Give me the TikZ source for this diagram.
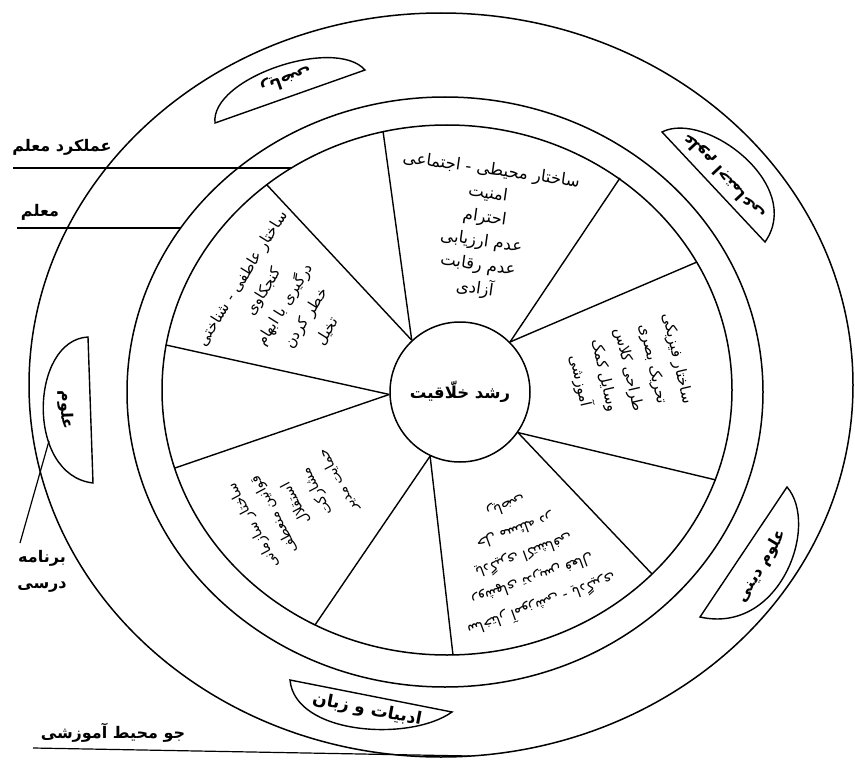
\documentclass[tikz,border=0pt]{standalone}
\usepackage{fontspec}
\newfontfamily\arabicfont[Script=Arabic]{DejaVu Sans}
\TeXXeTstate=1
\newcommand{\fa}[1]{\beginR #1\endR}
\tikzset{
  ring/.style={line width=1.5pt},
  spoke/.style={line width=1.4pt},
  lens/.style={line width=1.4pt},
  lead/.style={line width=1.2pt},
  seg/.style={align=center, inner sep=0pt, font=\arabicfont\fontsize{16.5}{24}\selectfont},
  lbl/.style={inner sep=0pt, align=center, font=\arabicfont\bfseries\fontsize{16}{26}\selectfont},
}
\begin{document}
\begin{tikzpicture}[x=1pt,y=-1pt]
\useasboundingbox (0,0) rectangle (855,760);
\fill[white] (0,0) rectangle (855,760);
% rings
\draw[ring] (441,385) ellipse [x radius=412pt, y radius=372pt];
\draw[ring] (445,392) ellipse [x radius=318pt, y radius=295pt];
\draw[ring] (447,390) ellipse [x radius=285pt, y radius=265pt];
% hub
\node[circle, draw, ring, minimum size=140pt, inner sep=0pt,
      font=\arabicfont\bfseries\fontsize{16.5}{18}\selectfont] (hub) at (460,392) {\fa{رشد خلّاقیت}};
% outer ends of spokes
\coordinate (o1) at (383,131);
\coordinate (o2) at (620,178);
\coordinate (o3) at (697,262);
\coordinate (o4) at (716,480);
\coordinate (o5) at (652,574);
\coordinate (o6) at (453,655);
\coordinate (o7) at (315,625);
\coordinate (o8) at (175,468);
\coordinate (o10) at (166,345);
\coordinate (o9) at (267,185);
\draw[spoke] (hub.133) -- (o1);
\draw[spoke] (hub.133) -- (o9);
\draw[spoke] (hub.45) -- (o2);
\draw[spoke] (hub.45) -- (o3);
\draw[spoke] (hub.-35) -- (o4);
\draw[spoke] (hub.-35) -- (o5);
\draw[spoke] (hub.-115) -- (o6);
\draw[spoke] (hub.-115) -- (o7);
\draw[spoke] (hub.182) -- (o8);
\draw[spoke] (hub.182) -- (o10);
% segment texts
\node[seg, rotate=-8] (sTop) at (483,230)
  {\fa{ساختار محیطی - اجتماعی}\\\fa{امنیت}\\\fa{احترام}\\\fa{عدم ارزیابی}\\\fa{عدم رقابت}\\\fa{آزادی}};
\node[seg, rotate=-77, font=\arabicfont\fontsize{15}{25}\selectfont] (sRight) at (628,370)
  {\fa{ساختار فیزیکی}\\\fa{تحریک بصری}\\\fa{طراحی کلاس}\\\fa{وسایل کمک}\\\fa{آموزشی}};
\node[seg, rotate=58, font=\arabicfont\fontsize{15}{25}\selectfont] (sLeft) at (285,305)
  {\fa{ساختار عاطفی - شناختی}\\\fa{کنجکاوی}\\\fa{درگیری با ابهام}\\\fa{خطر کردن}\\\fa{تخیل}};
\node[seg, rotate=200, font=\arabicfont\fontsize{14.5}{26}\selectfont] (sLowR) at (524,556)
  {\fa{ساختار آموزشی - یادگیری}\\\fa{روشهای تدریس فعال}\\\fa{یادگیری اکتشافی}\\\fa{حل مسئله در}\\\fa{ریاضی}};
\node[seg, rotate=118, font=\arabicfont\fontsize{14}{24}\selectfont] (sLowL) at (296,503)
  {\fa{ساختار سازمانی}\\\fa{قوانین منعطف}\\\fa{استقلال}\\\fa{مشارکت}\\\fa{حمایت مدیر}};
% subject lenses
\draw[lens] (215,123) .. controls (210,78) and (335,36) .. (365,70) -- cycle;
\node[lbl, rotate=199.5] (riazi) at (286,80) {\fa{ریاضی}};
\draw[lens] (662,132) .. controls (705,110) and (805,185) .. (765,242) -- cycle;
\node[lbl, rotate=133] (ejt) at (724,176) {\fa{علوم اجتماعی}};
\draw[lens] (787,487) .. controls (820,525) and (780,635) .. (700,617) -- cycle;
\node[lbl, rotate=59] (dini) at (762,566) {\fa{علوم دینی}};
\draw[lens] (290,680) .. controls (295,735) and (410,742) .. (452,712) -- cycle;
\node[lbl, rotate=-11, font=\arabicfont\bfseries\fontsize{17}{20}\selectfont] (adab) at (367,710) {\fa{ادبیات و زبان}};
\draw[lens] (88,337) .. controls (30,340) and (25,475) .. (93,483) -- cycle;
\node[lbl, rotate=-88] (olum) at (66,410) {\fa{علوم}};
% leader labels
\node[lbl] (amal) at (62,147) {\fa{عملکرد معلم}};
\coordinate (amalA) at (13,168);
\coordinate (amalB) at (291,168);
\draw[lead] (amalA) -- (amalB);
\node[lbl] (moal) at (40,212) {\fa{معلم}};
\coordinate (moalA) at (17,228);
\coordinate (moalB) at (181,228);
\draw[lead] (moalA) -- (moalB);
\node[lbl] (barn) at (42,571) {\fa{برنامه}\\\fa{درسی}};
\coordinate (barnA) at (49,441);
\coordinate (barnB) at (20,543);
\draw[lead] (barnA) -- (barnB);
\node[lbl] (jav) at (113,733) {\fa{جو محیط آموزشی}};
\coordinate (javA) at (33,748);
\coordinate (javB) at (470,756);
\draw[lead] (javA) -- (javB);
\end{tikzpicture}
\end{document}
